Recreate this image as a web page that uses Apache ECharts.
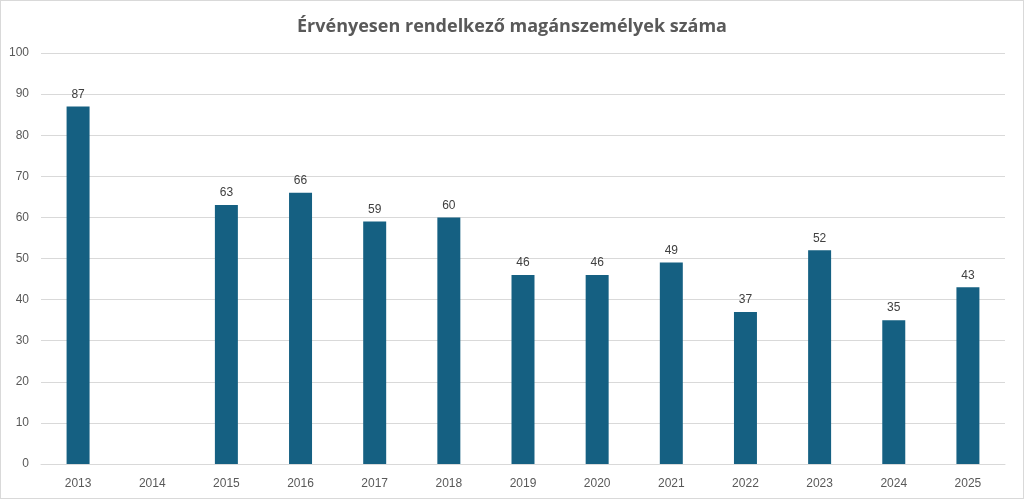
<!DOCTYPE html>
<html>
<head>
<meta charset="utf-8">
<script src="https://cdn.jsdelivr.net/npm/echarts@6/dist/echarts.min.js"></script>
<style>
html, body { margin: 0; padding: 0; background: #fff; }
#main { width: 1022px; height: 497px; border: 1px solid #d9d9d9; }
</style>
</head>
<body>
<div id="main"></div>
<script>
// adatok
var years = ['2013', '2014', '2015', '2016', '2017', '2018', '2019', '2020', '2021', '2022', '2023', '2024', '2025'];
var counts = [87, null, 63, 66, 59, 60, 46, 46, 49, 37, 52, 35, 43];
var yTicks = { min: 0, max: 100, interval: 10 };

var myChart = echarts.init(document.getElementById('main'));

var option = {
    animation: false,
    title: {
        text: 'Érvényesen rendelkező magánszemélyek száma',
        left: 'center',
        top: 12,
        textStyle: {
            fontFamily: 'Open Sans',
            fontSize: 18,
            fontWeight: 'bold',
            color: '#595959'
        }
    },
    grid: {
        left: 40,
        right: 18,
        top: 52,
        bottom: 34
    },
    xAxis: {
        type: 'category',
        data: years,
        axisLine: { lineStyle: { color: '#d9d9d9' } },
        axisTick: { show: false },
        axisLabel: { color: '#595959', fontSize: 12, fontFamily: 'Liberation Sans', margin: 14 }
    },
    yAxis: {
        type: 'value',
        min: yTicks.min,
        max: yTicks.max,
        interval: yTicks.interval,
        axisLine: { show: false },
        axisTick: { show: false },
        axisLabel: { color: '#595959', fontSize: 12, fontFamily: 'Liberation Sans', margin: 12 },
        splitLine: { lineStyle: { color: '#d9d9d9' } }
    },
    series: [{
        name: 'Magánszemélyek',
        type: 'bar',
        data: counts,
        barWidth: '31%',
        itemStyle: { color: '#156082' },
        label: {
            show: true,
            position: 'top',
            distance: 6,
            color: '#404040',
            fontSize: 12,
            fontFamily: 'Liberation Sans'
        }
    }]
};

myChart.setOption(option);
</script>
</body>
</html>
